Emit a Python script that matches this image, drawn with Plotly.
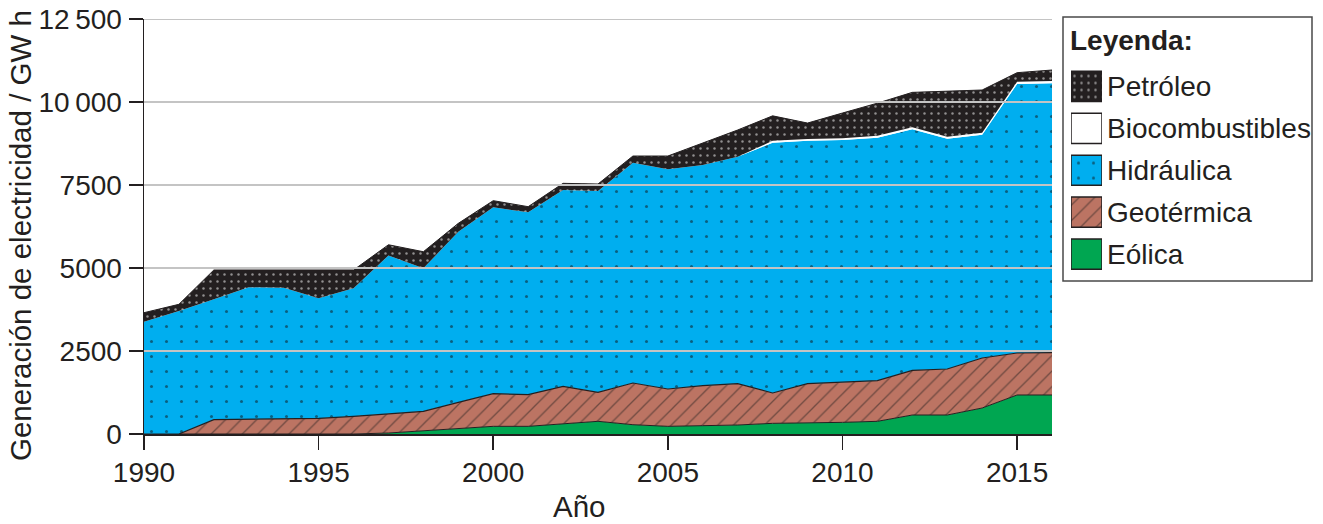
import plotly.graph_objects as go

# ---------------- data (GW h) ----------------
years = list(range(1990, 2017))
eolica = [0, 0, 0, 0, 0, 0, 0, 30, 100, 180, 231, 231, 311, 382, 280, 231, 251, 271,
          321, 331, 351, 382, 572, 572, 783, 1175, 1175]
geotermica = [0, 0, 432, 452, 472, 472, 532, 582, 583, 774, 984, 954, 1125, 873, 1256, 1124,
              1205, 1245, 914, 1185, 1205, 1224, 1346, 1386, 1506, 1265, 1275]
hidraulica = [3383, 3705, 3625, 3966, 3936, 3615, 3856, 4768, 4307, 5140, 5612, 5492, 5913,
              6064, 6637, 6617, 6646, 6837, 7540, 7319, 7299, 7320, 7259, 6937, 6727, 8102, 8112]
biocombustibles = [0, 0, 0, 0, 0, 0, 0, 0, 0, 0, 0, 0, 0, 0, 0, 0, 0, 0,
                   55, 50, 50, 55, 60, 60, 60, 70, 70]
petroleo = [271, 201, 883, 522, 532, 853, 552, 320, 500, 251, 201, 170, 201, 211, 200, 401,
            653, 804, 753, 481, 763, 984, 1053, 1376, 1285, 271, 331]

series_names = ["Petróleo", "Biocombustibles", "Hidráulica", "Geotérmica", "Eólica"]
x_ticks = [1990, 1995, 2000, 2005, 2010, 2015]
y_ticks = [0, 2500, 5000, 7500, 10000, 12500]
y_ticklabels = ["0", "2500", "5000", "7500", "10\u2009000", "12\u2009500"]

# ---------------- styles ----------------
INK = "#231f20"
FONT = "Liberation Sans, Arial, sans-serif"
FS = 28
FS_TITLE = 29.5
styles = {
    "Eólica": dict(bg="#00a651", fg="#00a651", shape="", size=8, sol=0.1, line=INK, lw=1),
    "Geotérmica": dict(bg="#bc7463", fg=INK, shape="/", size=11, sol=0.12, line=INK, lw=1.2),
    "Hidráulica": dict(bg="#00aeef", fg="#111111", shape=".", size=15, sol=0.032, line="#00aeef", lw=0),
    "Biocombustibles": dict(bg="#ffffff", fg="#ffffff", shape="", size=8, sol=0.1, line="#ffffff", lw=0),
    "Petróleo": dict(bg=INK, fg="#ffffff", shape=".", size=7, sol=0.1, line=INK, lw=1),
}
values = {"Eólica": eolica, "Geotérmica": geotermica, "Hidráulica": hidraulica,
          "Biocombustibles": biocombustibles, "Petróleo": petroleo}

# page geometry (pixels); page body margin is removed by a post script
W, H = 1323, 524
PLOT_L, PLOT_R, PLOT_T, PLOT_B = 144, 1052, 19, 434
ML, MT, MB, MR = PLOT_L, PLOT_T, H - PLOT_B, 10
PW = W - ML - MR
PH = H - MT - MB


def px_x(px):
    return (px - PLOT_L) / PW


def px_y(py):
    return (PLOT_B - py) / PH


fig = go.Figure()

# stacked areas, bottom to top
for name in ["Eólica", "Geotérmica", "Hidráulica", "Biocombustibles", "Petróleo"]:
    s = styles[name]
    fig.add_trace(go.Scatter(
        x=years, y=values[name], name=name, mode="lines", stackgroup="one",
        line=dict(color=s["line"], width=s["lw"]),
        fillcolor=s["bg"],
        fillpattern=dict(shape=s["shape"], bgcolor=s["bg"], fgcolor=s["fg"],
                         size=s["size"], solidity=s["sol"]),
        showlegend=False, hoverinfo="skip",
        xaxis="x", yaxis="y",
    ))

# custom legend swatches (bars in an auxiliary subplot)
for name in series_names:
    s = styles[name]
    fig.add_trace(go.Bar(
        x=[1], y=[name], base=0, orientation="h", width=0.72,
        marker=dict(color=s["bg"], line=dict(color=INK, width=1.5),
                    pattern=dict(shape=s["shape"], bgcolor=s["bg"], fgcolor=s["fg"],
                                 size=s["size"], solidity=s["sol"])),
        showlegend=False, hoverinfo="skip", xaxis="x2", yaxis="y2",
    ))

annotations = []
for name in series_names:
    annotations.append(dict(
        x=px_x(1105), xref="paper", y=name, yref="y2", text=name, showarrow=False,
        xanchor="left", yanchor="middle", font=dict(family=FONT, size=FS, color=INK)))
annotations.append(dict(
    x=px_x(1068), xref="paper", y=px_y(40), yref="paper", text="<b>Leyenda:</b>",
    showarrow=False, xanchor="left", yanchor="middle",
    font=dict(family=FONT, size=FS, color=INK)))
annotations.append(dict(
    x=px_x(21), xref="paper", y=px_y(236), yref="paper",
    text="Generación de electricidad / GW h", textangle=-90, showarrow=False,
    xanchor="center", yanchor="middle", font=dict(family=FONT, size=FS_TITLE, color=INK)))
annotations.append(dict(
    x=px_x(579), xref="paper", y=px_y(507), yref="paper", text="Año",
    showarrow=False, xanchor="center", yanchor="middle",
    font=dict(family=FONT, size=FS_TITLE, color=INK)))

shapes = []
for v in y_ticks[1:]:
    shapes.append(dict(type="line", xref="x domain", x0=0, x1=1, yref="y", y0=v, y1=v,
                       line=dict(color="#c4c4c4", width=2), layer="above"))
shapes.append(dict(type="rect", xref="paper", yref="paper",
                   x0=px_x(1063), x1=px_x(1312), y0=px_y(281), y1=px_y(17),
                   line=dict(color="#4a4a4a", width=1.5), fillcolor="rgba(0,0,0,0)"))

fig.update_layout(
    width=W, height=H,
    margin=dict(l=ML, r=MR, t=MT, b=MB, autoexpand=False),
    paper_bgcolor="white", plot_bgcolor="white",
    font=dict(family=FONT, size=FS, color=INK),
    barmode="overlay",
    showlegend=False,
    hovermode=False,
    xaxis=dict(domain=[0, px_x(PLOT_R)], range=[1990, 2016], tickvals=x_ticks,
               ticks="outside", ticklen=14, tickwidth=1.5, tickcolor=INK,
               showline=True, linecolor=INK, linewidth=1.5, showgrid=False, zeroline=False,
               ticklabelstandoff=-1, ticklabeloverflow="allow",
               tickfont=dict(family=FONT, size=FS, color=INK),
               automargin=False, anchor="y"),
    yaxis=dict(domain=[0, 1], range=[0, 12500], tickvals=y_ticks, ticktext=y_ticklabels,
               ticks="outside", ticklen=14, tickwidth=1.5, tickcolor=INK,
               showline=True, linecolor=INK, linewidth=1.5, showgrid=False, zeroline=False,
               ticklabelstandoff=1, ticklabeloverflow="allow",
               tickfont=dict(family=FONT, size=FS, color=INK),
               automargin=False, anchor="x"),
    xaxis2=dict(domain=[px_x(1071), px_x(1102)], range=[0, 1], visible=False,
                anchor="y2", fixedrange=True, automargin=False),
    yaxis2=dict(domain=[px_y(275), px_y(65.5)], type="category",
                categoryorder="array", categoryarray=series_names,
                range=[4.5, -0.5], visible=False, anchor="x2", fixedrange=True,
                automargin=False),
    annotations=annotations,
    shapes=shapes,
)

fig.write_html("out.html",
               config={"displayModeBar": False, "staticPlot": True},
               post_script="document.body.style.margin='0';document.body.style.overflow='hidden';")
